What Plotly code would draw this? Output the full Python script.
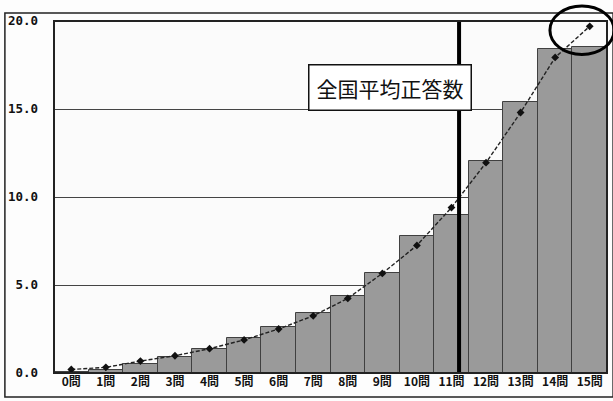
import plotly.graph_objects as go

# Number of correct answers (0-15) and the distribution values
categories = [f"{i}問" for i in range(16)]
positions = list(range(16))
bar_values = [0.05, 0.17, 0.5, 0.93, 1.35, 2.0, 2.6, 3.4, 4.37, 5.66, 7.8, 9.0, 12.05, 15.4, 18.4, 18.5]
line_values = [0.2, 0.32, 0.68, 0.98, 1.38, 1.88, 2.5, 3.25, 4.24, 5.66, 7.25, 9.4, 11.95, 14.8, 17.93, 19.7]
national_avg = 11.22
y_ticks = [0, 5, 10, 15, 20]
y_tick_labels = ["0.0", "5.0", "10.0", "15.0", "20.0"]

fig = go.Figure()

fig.add_trace(go.Bar(
    x=positions, y=bar_values, width=1.0,
    marker=dict(color="#9a9a9a", line=dict(color="#404040", width=1)),
    showlegend=False,
))

fig.add_trace(go.Scatter(
    x=positions, y=line_values, mode="lines+markers",
    line=dict(color="#222222", width=1.4, dash="4px,2px"),
    marker=dict(symbol="diamond", size=6, color="#111111"),
    showlegend=False,
))

# national average marker line
fig.add_shape(type="line", xref="x", yref="y",
              x0=national_avg, x1=national_avg, y0=0, y1=20,
              line=dict(color="black", width=4))

# outer frame
fig.add_shape(type="rect", xref="paper", yref="paper",
              x0=-0.0888, x1=1.011, y0=-0.068, y1=1.0227,
              line=dict(color="#222222", width=1.5), layer="below")

# plot border
fig.add_shape(type="rect", xref="paper", yref="paper",
              x0=0, x1=1, y0=0, y1=1,
              line=dict(color="#222222", width=2))

# circle around the top point
fig.add_shape(type="circle", xref="paper", yref="paper",
              x0=0.8968, x1=1.0127, y0=0.905, y1=1.0426,
              line=dict(color="black", width=3))

fig.add_annotation(
    x=0.607, y=0.878, xref="paper", yref="paper",
    text="全国平均正答数", showarrow=False,
    font=dict(family="Noto Sans CJK JP", size=21, color="#111111"),
    bgcolor="white", bordercolor="#111111", borderwidth=1.5, borderpad=7,
)

fig.update_layout(
    width=613, height=401,
    margin=dict(l=54, r=6, t=21, b=28),
    paper_bgcolor="#fdfdfd", plot_bgcolor="#fbfbfb",
    bargap=0,
    xaxis=dict(
        range=[-0.5, 15.5], tickvals=positions, ticktext=categories,
        showgrid=False, zeroline=False, ticks="",
        tickfont=dict(family="Noto Sans CJK JP", size=12, color="#111111", weight="bold"),
    ),
    yaxis=dict(
        range=[0, 20], tickvals=y_ticks, ticktext=y_tick_labels,
        showgrid=True, gridcolor="#444444", gridwidth=1.2,
        zeroline=False, ticks="", ticklabelstandoff=15,
        tickfont=dict(family="DejaVu Sans Mono", size=12.5, color="#111111", weight="bold"),
    ),
)

fig.write_html("out.html")
